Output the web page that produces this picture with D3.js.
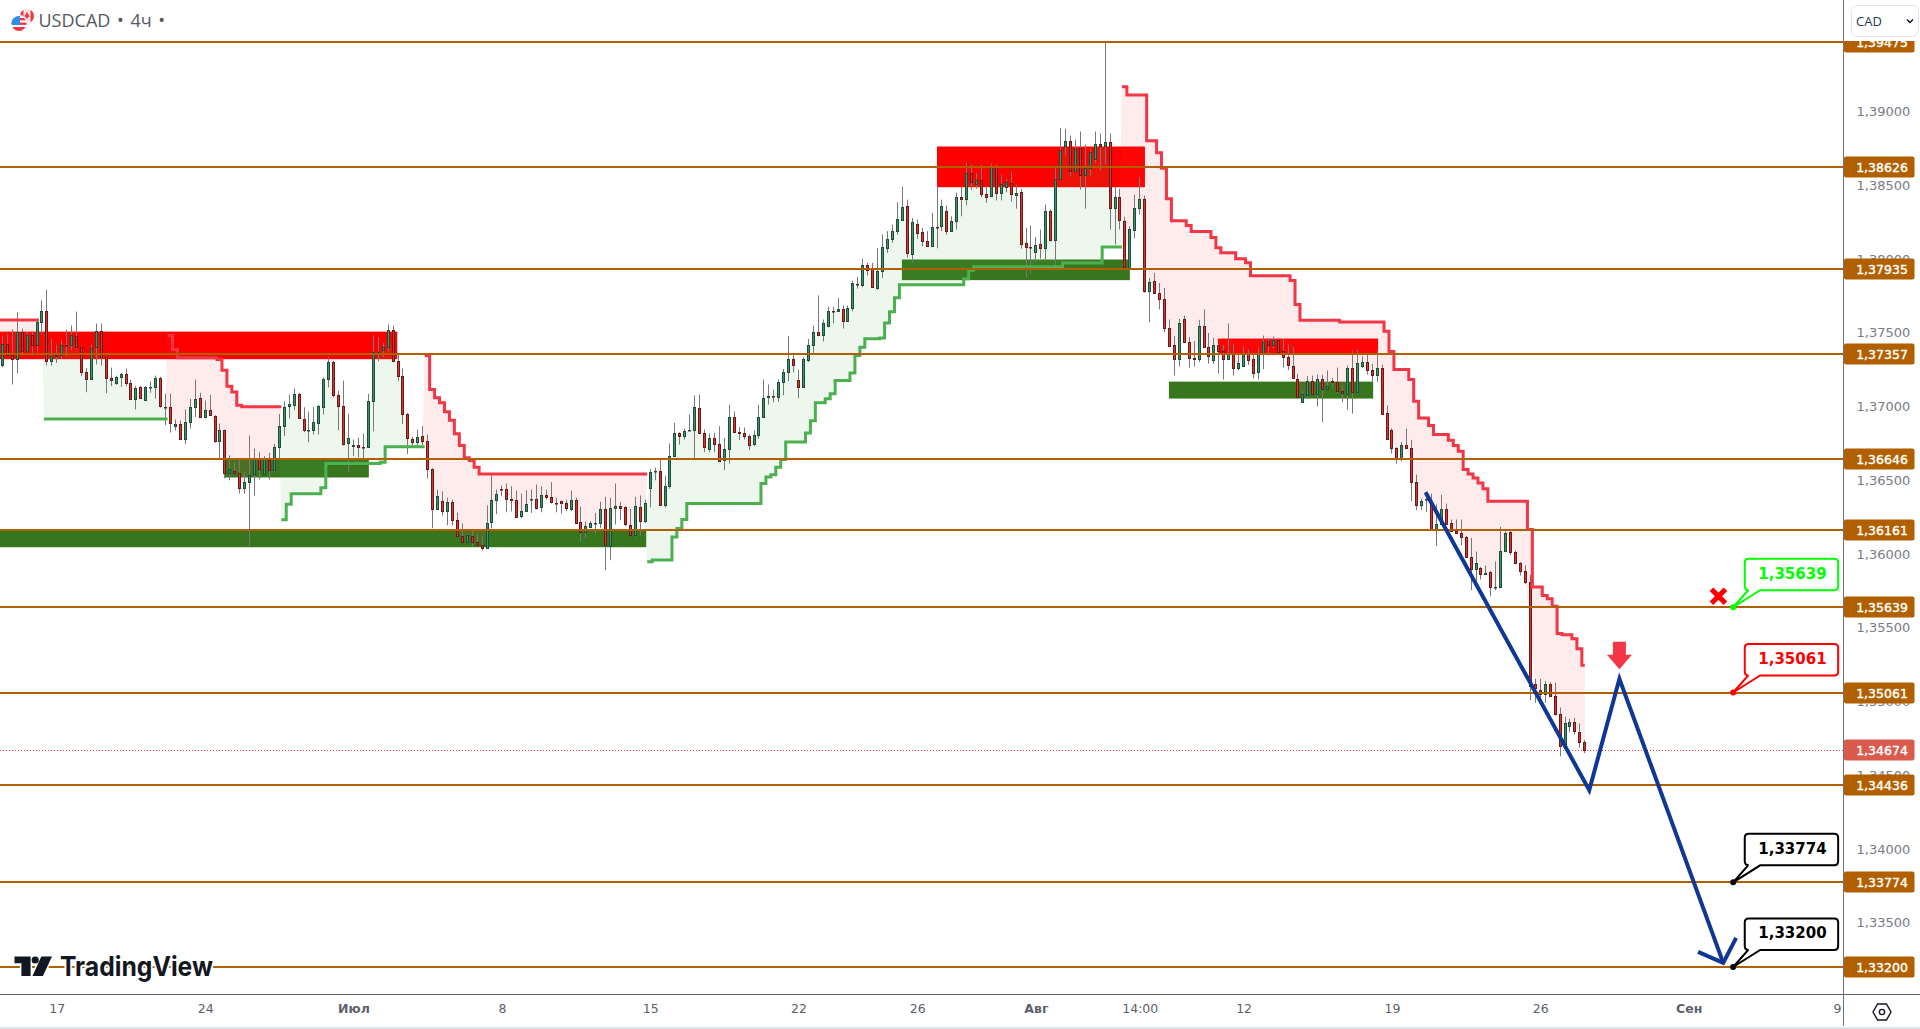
<!DOCTYPE html>
<html>
<head>
<meta charset="utf-8">
<title>USDCAD 4h</title>
<script src="https://cdnjs.cloudflare.com/ajax/libs/d3/7.8.5/d3.min.js"></script>
<style>
    html, body { margin: 0; padding: 0; background: #fff; overflow: hidden; }
    svg { display: block; }
</style>
</head>
<body>
<div id="chart"></div>
<script>
// Candles as [open, high, low, close]
const barsJune = [
    [1.37280,1.37477,1.37267,1.37425],[1.37425,1.37488,1.37346,1.37350],[1.37350,1.37522,1.37149,1.37325],[1.37325,1.37640,1.37224,1.37508],
    [1.37508,1.37529,1.37346,1.37382],[1.37382,1.37506,1.37375,1.37488],[1.37488,1.37506,1.37346,1.37420],[1.37420,1.37590,1.37375,1.37576],
    [1.37574,1.37719,1.37488,1.37649],[1.37649,1.37793,1.37278,1.37307],[1.37307,1.37459,1.37278,1.37343],[1.37341,1.37420,1.37296,1.37350],
    [1.37350,1.37454,1.37323,1.37418],[1.37418,1.37522,1.37341,1.37416],[1.37418,1.37549,1.37382,1.37486],[1.37479,1.37644,1.37386,1.37402],
    [1.37404,1.37409,1.37206,1.37233],[1.37235,1.37262,1.37097,1.37185],[1.37185,1.37420,1.37185,1.37398],[1.37404,1.37563,1.37285,1.37513],
    [1.37513,1.37563,1.37278,1.37334],[1.37337,1.37341,1.37090,1.37192],[1.37194,1.37264,1.37138,1.37178],[1.37158,1.37210,1.37147,1.37201],
    [1.37201,1.37228,1.37133,1.37221],[1.37221,1.37258,1.37138,1.37158],[1.37160,1.37183,1.37047,1.37050],[1.37050,1.37138,1.36980,1.37127],
    [1.37133,1.37138,1.37052,1.37056],[1.37045,1.37138,1.37043,1.37133],[1.37131,1.37172,1.37093,1.37133],[1.37133,1.37210,1.37054,1.37194],
    [1.37194,1.37201,1.36993,1.37002],[1.36998,1.37088,1.36873,1.36995],[1.36998,1.37088,1.36824,1.36887],[1.36867,1.36912,1.36837,1.36882],
    [1.36882,1.36905,1.36776,1.36778],[1.36778,1.36980,1.36745,1.36896],[1.36894,1.37052,1.36851,1.36998],[1.36998,1.37183,1.36930,1.37052],
    [1.37059,1.37093,1.36923,1.36928],[1.36928,1.37041,1.36919,1.36977],[1.36977,1.37079,1.36939,1.36943],[1.36937,1.36941,1.36754,1.36765],
    [1.36765,1.36885,1.36641,1.36842],[1.36842,1.36844,1.36514,1.36548],[1.36548,1.36668,1.36500,1.36577],[1.36564,1.36623,1.36541,1.36548],
    [1.36548,1.36641,1.36410,1.36446],[1.36446,1.36561,1.36410,1.36489],[1.36489,1.36803,1.36046,1.36539],[1.36541,1.36715,1.36397,1.36641],
    [1.36641,1.36690,1.36505,1.36575],[1.36541,1.36663,1.36537,1.36641],[1.36638,1.36686,1.36505,1.36568],[1.36568,1.36747,1.36555,1.36727],
    [1.36727,1.36950,1.36641,1.36869],[1.36867,1.37036,1.36799,1.36998],[1.37002,1.37081,1.36919,1.37018],[1.37009,1.37122,1.36975,1.37086],
    [1.37086,1.37093,1.36919,1.36921],[1.36916,1.36995,1.36826,1.36839],[1.36839,1.36966,1.36758,1.36842],[1.36839,1.37000,1.36810,1.36896],
    [1.36894,1.37011,1.36810,1.37007],[1.36998,1.37197,1.36946,1.37190],[1.37185,1.37337,1.37129,1.37303],[1.37303,1.37310,1.37063,1.37077],
    [1.37077,1.37106,1.36839,1.37002],[1.37004,1.37176,1.36736,1.36745],[1.36751,1.36952,1.36552,1.36788]
];
const barsJuly = [
    [1.36733,1.36776,1.36663,1.36742],[1.36740,1.36788,1.36656,1.36724],[1.36727,1.36817,1.36641,1.36724],[1.36727,1.37086,1.36722,1.37038],
    [1.37038,1.37488,1.36833,1.37368],[1.37368,1.37472,1.37307,1.37371],[1.37382,1.37432,1.37334,1.37404],[1.37402,1.37556,1.37373,1.37520],
    [1.37520,1.37549,1.37301,1.37307],[1.37310,1.37352,1.37172,1.37206],[1.37208,1.37258,1.36880,1.36948],[1.36950,1.36957,1.36677,1.36785],
    [1.36781,1.36794,1.36720,1.36758],[1.36758,1.36844,1.36720,1.36794],[1.36801,1.36867,1.36740,1.36765],[1.36767,1.36810,1.36512,1.36575],
    [1.36577,1.36582,1.36175,1.36304],[1.36304,1.36437,1.36302,1.36394],[1.36360,1.36424,1.36261,1.36290],[1.36290,1.36381,1.36195,1.36354],
    [1.36354,1.36369,1.36195,1.36229],[1.36232,1.36281,1.36119,1.36121],[1.36123,1.36207,1.36076,1.36080],[1.36080,1.36139,1.36076,1.36128],
    [1.36123,1.36155,1.36053,1.36080],[1.36082,1.36139,1.36057,1.36060],[1.36062,1.36121,1.36026,1.36042],[1.36042,1.36329,1.36039,1.36211],
    [1.36216,1.36534,1.36175,1.36367],[1.36367,1.36437,1.36270,1.36408],[1.36442,1.36464,1.36392,1.36439],[1.36442,1.36478,1.36283,1.36372],
    [1.36374,1.36460,1.36290,1.36365],[1.36367,1.36430,1.36245,1.36250],[1.36256,1.36410,1.36243,1.36293],[1.36290,1.36433,1.36288,1.36340],
    [1.36372,1.36437,1.36279,1.36374],[1.36374,1.36471,1.36302,1.36315],[1.36317,1.36460,1.36283,1.36401],[1.36401,1.36437,1.36369,1.36385],
    [1.36387,1.36487,1.36342,1.36351],[1.36347,1.36381,1.36283,1.36345],[1.36360,1.36363,1.36274,1.36345],[1.36347,1.36369,1.36290,1.36311],
    [1.36311,1.36430,1.36290,1.36369],[1.36369,1.36381,1.36207,1.36216],[1.36218,1.36322,1.36085,1.36150],[1.36150,1.36220,1.36109,1.36189],
    [1.36182,1.36223,1.36177,1.36211],[1.36209,1.36279,1.36139,1.36211],[1.36209,1.36354,1.36177,1.36306],[1.36306,1.36388,1.35890,1.36060],
    [1.36053,1.36381,1.35958,1.36313],[1.36311,1.36478,1.36200,1.36326],[1.36326,1.36354,1.36229,1.36311],[1.36320,1.36324,1.36189,1.36202],
    [1.36198,1.36306,1.36125,1.36128],[1.36128,1.36388,1.36116,1.36326],[1.36320,1.36397,1.36125,1.36222],[1.36222,1.36369,1.36211,1.36347],
    [1.36446,1.36577,1.36317,1.36557],[1.36561,1.36586,1.36500,1.36564],[1.36564,1.36641,1.36329,1.36331],[1.36331,1.36532,1.36317,1.36462],
    [1.36460,1.36749,1.36442,1.36663],[1.36663,1.36889,1.36661,1.36821],[1.36821,1.36826,1.36742,1.36799],[1.36799,1.36851,1.36776,1.36835],
    [1.36839,1.36946,1.36839,1.36842],[1.36839,1.37075,1.36652,1.36998],[1.36991,1.37081,1.36817,1.36819],[1.36821,1.36844,1.36690,1.36724],
    [1.36711,1.36817,1.36690,1.36788],[1.36788,1.36821,1.36690,1.36745],[1.36747,1.36867,1.36629,1.36634],[1.36638,1.36788,1.36568,1.36713],
    [1.36711,1.37011,1.36613,1.36930],[1.36930,1.36966,1.36821,1.36826],[1.36828,1.36860,1.36772,1.36819],[1.36821,1.36858,1.36776,1.36799],
    [1.36803,1.36810,1.36704,1.36745],[1.36745,1.36839,1.36731,1.36808],[1.36806,1.37011,1.36781,1.36930],[1.36932,1.37183,1.36930,1.37059],
    [1.37063,1.37149,1.37013,1.37070],[1.37072,1.37115,1.37029,1.37070],[1.37063,1.37183,1.37032,1.37167],[1.37165,1.37255,1.37077,1.37235],
    [1.37233,1.37477,1.37172,1.37319],[1.37319,1.37352,1.37233,1.37280],[1.37181,1.37251,1.37056,1.37131],[1.37131,1.37332,1.37129,1.37319],
    [1.37319,1.37459,1.37301,1.37418],[1.37416,1.37549,1.37364,1.37506],[1.37506,1.37753,1.37477,1.37484],[1.37484,1.37590,1.37441,1.37567],
    [1.37545,1.37676,1.37538,1.37649],[1.37651,1.37676,1.37563,1.37649],[1.37646,1.37737,1.37644,1.37662],[1.37662,1.37685,1.37529,1.37578],
    [1.37578,1.37685,1.37576,1.37669],[1.37667,1.37854,1.37646,1.37838],[1.37832,1.37879,1.37800,1.37829],[1.37823,1.38003,1.37809,1.37960],
    [1.37960,1.37974,1.37888,1.37929],[1.37933,1.37974,1.37807,1.37809],[1.37809,1.38076,1.37793,1.37922],[1.37918,1.38166,1.37872,1.38083],
    [1.38073,1.38189,1.38042,1.38137],[1.38134,1.38234,1.38110,1.38191],[1.38189,1.38385,1.38166,1.38272],[1.38268,1.38492,1.38263,1.38354],
    [1.38360,1.38403,1.38010,1.38040],[1.38033,1.38279,1.37974,1.38252],[1.38238,1.38268,1.38137,1.38175],[1.38184,1.38211,1.38087,1.38121],
    [1.38123,1.38189,1.38083,1.38087],[1.38087,1.38313,1.38083,1.38218],[1.38218,1.38494,1.38073,1.38216],[1.38223,1.38403,1.38189,1.38360],
    [1.38327,1.38363,1.38166,1.38189],[1.38189,1.38290,1.38186,1.38259],[1.38256,1.38449,1.38200,1.38421],[1.38421,1.38489,1.38290,1.38406],
    [1.38406,1.38652,1.38363,1.38584],[1.38584,1.38641,1.38471,1.38521],[1.38514,1.38584,1.38478,1.38539],[1.38537,1.38641,1.38419,1.38440],
    [1.38444,1.38494,1.38381,1.38426],[1.38426,1.38648,1.38419,1.38623],[1.38623,1.38641,1.38397,1.38446],[1.38446,1.38573,1.38397,1.38510],
    [1.38491,1.38546,1.38453,1.38523],[1.38516,1.38593,1.38390,1.38440],[1.38440,1.38505,1.38342,1.38451],[1.38455,1.38476,1.38071,1.38101],
    [1.38110,1.38211,1.37875,1.38080],[1.38083,1.38227,1.37902,1.38080]
];
const barsAugust = [
    [1.38046,1.38150,1.37981,1.38096],[1.38103,1.38200,1.38003,1.38073],[1.38073,1.38370,1.37981,1.38327],[1.38327,1.38336,1.38119,1.38132],
    [1.38132,1.38625,1.37940,1.38544],[1.38544,1.38889,1.38539,1.38740],[1.38765,1.38883,1.38702,1.38801],[1.38801,1.38837,1.38559,1.38596],
    [1.38596,1.38810,1.38591,1.38747],[1.38754,1.38864,1.38471,1.38568],[1.38568,1.38776,1.38342,1.38618],[1.38616,1.38749,1.38566,1.38727],
    [1.38679,1.38864,1.38652,1.38781],[1.38781,1.38851,1.38600,1.38765],[1.38765,1.39470,1.38641,1.38794],[1.38794,1.38851,1.38200,1.38345],
    [1.38345,1.38489,1.38098,1.38421],[1.38421,1.38476,1.38200,1.38263],[1.38259,1.38286,1.37940,1.37945],[1.37940,1.38223,1.37936,1.38204],
    [1.38200,1.38437,1.38139,1.38347],[1.38347,1.38557,1.38302,1.38408],[1.38408,1.38431,1.37771,1.37782],[1.37782,1.37872,1.37572,1.37845],
    [1.37852,1.37906,1.37766,1.37768],[1.37771,1.37838,1.37658,1.37728],[1.37730,1.37804,1.37504,1.37531],[1.37533,1.37590,1.37404,1.37409],
    [1.37414,1.37477,1.37212,1.37321],[1.37321,1.37594,1.37271,1.37567],[1.37594,1.37617,1.37432,1.37436],[1.37438,1.37472,1.37264,1.37328],
    [1.37330,1.37445,1.37271,1.37321],[1.37321,1.37588,1.37301,1.37547],[1.37547,1.37658,1.37400,1.37402],[1.37404,1.37499,1.37291,1.37341],
    [1.37314,1.37465,1.37291,1.37418],[1.37418,1.37425,1.37224,1.37375],[1.37377,1.37414,1.37183,1.37321],[1.37319,1.37563,1.37314,1.37355],
    [1.37359,1.37425,1.37210,1.37262],[1.37260,1.37352,1.37246,1.37296],[1.37273,1.37407,1.37269,1.37357],[1.37357,1.37386,1.37282,1.37314],
    [1.37319,1.37352,1.37190,1.37226],[1.37233,1.37398,1.37183,1.37357],[1.37359,1.37481,1.37253,1.37438],[1.37441,1.37466,1.37346,1.37416],
    [1.37420,1.37475,1.37393,1.37454],[1.37454,1.37466,1.37371,1.37375],[1.37377,1.37461,1.37264,1.37334],[1.37337,1.37420,1.37246,1.37280],
    [1.37276,1.37404,1.37190,1.37192],[1.37188,1.37221,1.37061,1.37063],[1.37029,1.37106,1.37027,1.37086],[1.37081,1.37206,1.37052,1.37174],
    [1.37174,1.37210,1.37081,1.37084],[1.37084,1.37217,1.37000,1.37188],[1.37188,1.37217,1.36894,1.37117],[1.37117,1.37244,1.37115,1.37138],
    [1.37174,1.37194,1.37129,1.37170],[1.37167,1.37264,1.37090,1.37104],[1.37106,1.37138,1.37029,1.37090],[1.37090,1.37278,1.36980,1.37264],
    [1.37262,1.37380,1.36952,1.37097],[1.37104,1.37386,1.37088,1.37298],[1.37278,1.37341,1.37262,1.37303],[1.37303,1.37352,1.37217,1.37246],
    [1.37249,1.37291,1.37167,1.37217],[1.37219,1.37375,1.37165,1.37264],[1.37262,1.37285,1.36948,1.36952],[1.36957,1.37007,1.36774,1.36778],
    [1.36842,1.36851,1.36681,1.36717],[1.36720,1.36724,1.36613,1.36652],[1.36652,1.36760,1.36627,1.36740],[1.36740,1.36851,1.36715,1.36717],
    [1.36720,1.36774,1.36358,1.36487],[1.36489,1.36539,1.36297,1.36331],[1.36331,1.36376,1.36297,1.36361],[1.36367,1.36415,1.36284,1.36370],
    [1.36352,1.36410,1.36164,1.36166],[1.36166,1.36336,1.36053,1.36205],[1.36205,1.36403,1.36200,1.36306],[1.36306,1.36342,1.36200,1.36205],
    [1.36211,1.36234,1.36155,1.36159],[1.36159,1.36234,1.36139,1.36144],[1.36144,1.36234,1.36058,1.36117],[1.36117,1.36121,1.35974,1.35981],
    [1.35981,1.36110,1.35755,1.35897],[1.35897,1.36017,1.35816,1.35936],[1.35906,1.35913,1.35827,1.35863],[1.35863,1.35922,1.35857,1.35872],
    [1.35879,1.35884,1.35714,1.35778],[1.35775,1.35949,1.35755,1.35778],[1.35778,1.36184,1.35773,1.36022],[1.36019,1.36155,1.36017,1.36144],
    [1.36150,1.36166,1.35992,1.36013],[1.36015,1.36022,1.35931,1.35938],[1.35940,1.35947,1.35854,1.35884],[1.35886,1.35924,1.35796,1.35809],
    [1.35811,1.35859,1.35009,1.35109],[1.35120,1.35154,1.34991,1.35090],[1.35079,1.35154,1.35014,1.35052],[1.35052,1.35138,1.34991,1.35120],
    [1.35120,1.35131,1.35032,1.35036],[1.35038,1.35127,1.34905,1.34914],[1.34916,1.34959,1.34629,1.34699],[1.34702,1.34896,1.34697,1.34855],
    [1.34833,1.34883,1.34792,1.34862],[1.34862,1.34889,1.34776,1.34801],[1.34794,1.34851,1.34686,1.34724],[1.34727,1.34738,1.34650,1.34674]
];

// Supertrend runs as [bar, price] breakpoints, the last row only marks where the run stops
const downTrend1 = [[-1,1.37587],[7,1.37587]];
const upTrend1 = [[8,1.36916],[33,1.36916]];
const downTrend2 = [[33,1.37481],[34,1.37386],[35,1.37330],[43,1.37319],[44,1.37246],[45,1.37138],[46,1.37099],[47,1.37009],[48,1.36998],[56,1.36998]];
const upTrend2 = [[56,1.36232],[57,1.36338],[58,1.36408],[64,1.36449],[65,1.36613],[76,1.36622],[77,1.36727],[85,1.36727]];
const downTrend3 = [[85,1.37346],[86,1.37115],[87,1.37059],[88,1.37025],[89,1.36964],[90,1.36907],[91,1.36815],[92,1.36736],[93,1.36652],[94,1.36634],[95,1.36589],[96,1.36543],[130,1.36543]];
const upTrend3 = [[130,1.35947],[131,1.35960],[135,1.36116],[136,1.36173],[137,1.36234],[138,1.36342],[153,1.36478],[154,1.36523],[155,1.36537],[156,1.36589],[157,1.36641],[158,1.36760],[162,1.36821],[163,1.36903],[164,1.37025],[166,1.37052],[167,1.37086],[168,1.37176],[171,1.37228],[172,1.37346],[173,1.37402],[174,1.37459],[177,1.37465],[178,1.37567],[179,1.37642],[180,1.37737],[181,1.37825],[194,1.37866],[195,1.37924],[196,1.37947],[214,1.37974],[222,1.38082],[226,1.38082]];
const downTrend4 = [[226,1.39168],[227,1.39113],[231,1.38802],[233,1.38720],[234,1.38616],[235,1.38408],[236,1.38259],[239,1.38228],[240,1.38187],[244,1.38146],[245,1.38076],[246,1.38042],[249,1.38002],[251,1.37975],[252,1.37886],[260,1.37854],[261,1.37691],[262,1.37585],[270,1.37574],[279,1.37511],[280,1.37373],[281,1.37251],[284,1.37183],[285,1.37036],[286,1.36923],[288,1.36871],[289,1.36810],[292,1.36772],[293,1.36736],[294,1.36697],[295,1.36573],[296,1.36543],[297,1.36516],[298,1.36482],[299,1.36442],[300,1.36358],[308,1.36166],[309,1.35777],[311,1.35719],[312,1.35696],[313,1.35646],[314,1.35461],[315,1.35452],[317,1.35425],[318,1.35357],[319,1.35246],[319.6,1.35246]];

// Zones as [first bar, last bar, top price, bottom price]
const supplyZones = [[-1,79.85,1.37508,1.37321],[189,231.05,1.38763,1.38487],[245.8,278.2,1.37461,1.37362]];
const demandZones = [[44.8,74.1,1.36641,1.36519],[-1,130.2,1.36161,1.36046],[181.9,228,1.37997,1.37857],[235.9,277.2,1.37169,1.37054]];

const levelPrices = [1.39475,1.38626,1.37935,1.37357,1.36646,1.36161,1.35639,1.35061,1.34436,1.33774,1.33200];
const priceTicks = [1.39,1.385,1.38,1.375,1.37,1.365,1.36,1.355,1.35,1.345,1.34,1.335];
const lastPrice = 1.34674;

const timeTickBars = [11,41,71,101,131,161,185,209,230,251,281,311,341,371];
const timeTickLabels = ["17","24","Июл","8","15","22","26","Авг","14:00","12","19","26","Сен","9"];
const boldTimeLabels = ["Июл","Авг","Сен"];

// Forecast drawing as [bar, price]
const forecastPath = [[287.8,1.36419],[320.9,1.34399],[327,1.35154],[348,1.33228]];
const forecastHead = [[342.9,1.33303],[348,1.33228],[350.6,1.33398]];

const calloutBar = 350;
const calloutPrices = [1.35639,1.35061,1.33774,1.33200];
const calloutColors = ["#00ff00","#ff0000","#000000","#000000"];

// Layout
const width = 1920;
const height = 1029;
const axisX = 1843.5;
const timeAxisY = 994.5;
const bandColor = "#b25f00";
const font = "'DejaVu Sans', sans-serif";

const candles = [...barsJune, ...barsJuly, ...barsAugust];

const xScale = d3.scaleLinear().domain([0, 320]).range([2.4, 1584.8]);
const yScale = d3.scaleLinear().domain([1.39475, 1.332]).range([41.5, 967]);
const formatPrice = d => d.toFixed(5).replace(".", ",");

const svg = d3.select("#chart")
    .append("svg")
    .attr("width", width)
    .attr("height", height)
    .attr("viewBox", `0 0 ${width} ${height}`)
    .style("background", "#fff");

const plot = svg.append("g");

plot.append("clipPath").attr("id", "plotClip")
    .append("rect")
    .attr("width", axisX)
    .attr("height", timeAxisY);

const marks = plot.append("g").attr("clip-path", "url(#plotClip)");

// Zones sit under everything else
const drawZones = (zones, color) => {
    marks.append("g")
        .selectAll("rect")
        .data(zones)
        .join("rect")
        .attr("x", d => xScale(d[0]))
        .attr("width", d => xScale(d[1]) - xScale(d[0]))
        .attr("y", d => yScale(d[2]))
        .attr("height", d => yScale(d[3]) - yScale(d[2]))
        .attr("fill", color);
};
drawZones(supplyZones, "#ff0000");
drawZones(demandZones, "#38761d");

// Supertrend fills: from the step line to the middle of the candle bodies
const lineShift = 0.4;
const bodyMiddle = i => {
    const c = candles[Math.max(0, Math.round(i))];
    return (c[0] + c[3]) / 2;
};

const drawTrend = (steps, lineColor, fillColor) => {
    const first = steps[0][0];
    const last = steps[steps.length - 1][0];

    const top = [];
    steps.forEach((s, k) => {
        if (k > 0) top.push([xScale(s[0] + lineShift), yScale(steps[k - 1][1])]);
        top.push([xScale(s[0] + lineShift), yScale(s[1])]);
    });
    const bottom = [];
    for (let i = Math.ceil(last); i >= Math.max(0, Math.ceil(first)); i--) {
        bottom.push([xScale(i), yScale(bodyMiddle(i))]);
    }

    marks.append("path")
        .attr("d", d3.line()([...top, ...bottom]) + "Z")
        .attr("fill", fillColor);

    return () => {
        marks.append("path")
            .attr("d", d3.line().curve(d3.curveStepAfter)
                .x(d => xScale(d[0] + lineShift))
                .y(d => yScale(d[1]))(steps))
            .attr("fill", "none")
            .attr("stroke", lineColor)
            .attr("stroke-width", 3);
    };
};

const pink = "rgba(242,54,69,0.1)";
const mint = "rgba(76,175,80,0.1)";
const trendLines = [
    drawTrend(downTrend1, "#f23645", pink),
    drawTrend(upTrend1, "#4caf50", mint),
    drawTrend(downTrend2, "#f23645", pink),
    drawTrend(upTrend2, "#4caf50", mint),
    drawTrend(downTrend3, "#f23645", pink),
    drawTrend(upTrend3, "#4caf50", mint),
    drawTrend(downTrend4, "#f23645", pink)
];

// Last price line
marks.append("line")
    .attr("x1", 0)
    .attr("x2", axisX)
    .attr("y1", Math.round(yScale(lastPrice)) + 0.5)
    .attr("y2", Math.round(yScale(lastPrice)) + 0.5)
    .attr("stroke", "#f23645")
    .attr("stroke-width", 1)
    .attr("stroke-dasharray", "1 2");

// Candles
const candleX = i => Math.floor(xScale(i));
const candleGroup = marks.append("g");

candleGroup.selectAll("line")
    .data(candles)
    .join("line")
    .attr("x1", (d, i) => candleX(i) + 0.5)
    .attr("x2", (d, i) => candleX(i) + 0.5)
    .attr("y1", d => yScale(d[1]))
    .attr("y2", d => yScale(d[2]))
    .attr("stroke", "#787878")
    .attr("stroke-width", 1);

candleGroup.selectAll("rect")
    .data(candles)
    .join("rect")
    .attr("x", (d, i) => candleX(i) - 0.5)
    .attr("width", 2)
    .attr("y", d => Math.round(yScale(Math.max(d[0], d[3]))) + 0.5)
    .attr("height", d => Math.max(0.5, Math.round(Math.abs(yScale(d[0]) - yScale(d[3])))))
    .attr("fill", d => d[3] >= d[0] ? "#3d9468" : "#d8352f")
    .attr("stroke", d => d[3] >= d[0] ? "#1d4d39" : "#671a17")
    .attr("stroke-width", 1);

trendLines.forEach(draw => draw());

// Horizontal levels
marks.append("g")
    .selectAll("line")
    .data(levelPrices)
    .join("line")
    .attr("x1", 0)
    .attr("x2", axisX)
    .attr("y1", d => Math.round(yScale(d)))
    .attr("y2", d => Math.round(yScale(d)))
    .attr("stroke", bandColor)
    .attr("stroke-width", 2);

// Forecast line with its arrow head
const forecastLine = d3.line().x(d => xScale(d[0])).y(d => yScale(d[1]));
[forecastPath, forecastHead].forEach(points => {
    marks.append("path")
        .attr("d", forecastLine(points))
        .attr("fill", "none")
        .attr("stroke", "#0f3796")
        .attr("stroke-width", 4)
        .attr("stroke-linejoin", "miter");
});

// Red sell arrow above the forecast peak
const arrowX = xScale(forecastPath[2][0]);
const arrowY = yScale(forecastPath[2][1]);
marks.append("path")
    .attr("d", `M${arrowX - 6.5},${arrowY - 37} h13 v13 h6 l-12.5,14.5 l-12.5,-14.5 h6 Z`)
    .attr("fill", "#f23645");

// Red cross on the invalidation level
const crossX = xScale(calloutBar) - 14.7;
const crossY = yScale(calloutPrices[0]) - 11;
marks.append("path")
    .attr("d", `M${crossX - 7},${crossY - 7} L${crossX + 7},${crossY + 7} M${crossX + 7},${crossY - 7} L${crossX - 7},${crossY + 7}`)
    .attr("stroke", "#ff0000")
    .attr("stroke-width", 5.2)
    .attr("fill", "none");

// Callouts
const callouts = svg.append("g")
    .selectAll("g")
    .data(calloutPrices)
    .join("g")
    .attr("transform", d => `translate(${xScale(calloutBar)},${yScale(d)})`);

const bubble = { x0: 11.6, x1: 105, y0: -48.5, y1: -17, r: 4, tailL: 15, tailR: 27 };

callouts.append("path")
    .attr("d", `M${bubble.x0 + bubble.r},${bubble.y0}
        H${bubble.x1 - bubble.r} Q${bubble.x1},${bubble.y0} ${bubble.x1},${bubble.y0 + bubble.r}
        V${bubble.y1 - bubble.r} Q${bubble.x1},${bubble.y1} ${bubble.x1 - bubble.r},${bubble.y1}
        H${bubble.tailR} L0,0 L${bubble.tailL},${bubble.y1}
        H${bubble.x0 + bubble.r} Q${bubble.x0},${bubble.y1} ${bubble.x0},${bubble.y1 - bubble.r}
        V${bubble.y0 + bubble.r} Q${bubble.x0},${bubble.y0} ${bubble.x0 + bubble.r},${bubble.y0} Z`)
    .attr("fill", "#fff")
    .attr("stroke", (d, i) => calloutColors[i])
    .attr("stroke-width", 2);

callouts.append("circle")
    .attr("r", 3)
    .attr("fill", (d, i) => calloutColors[i]);

callouts.append("text")
    .attr("x", (bubble.x0 + bubble.x1) / 2 + 1)
    .attr("y", (bubble.y0 + bubble.y1) / 2 + 4)
    .attr("text-anchor", "middle")
    .style("font-family", font)
    .style("font-size", "15px")
    .style("font-weight", "bold")
    .style("fill", (d, i) => calloutColors[i])
    .text(d => formatPrice(d));

// TradingView logo
const logo = svg.append("g");
logo.append("path")
    .attr("d", "M14.5,956.5 H30.6 V976 H21.4 V963.3 H14.5 Z M41.3,956.5 H52 L42.9,976 H32.5 Z")
    .attr("fill", "#131722")
    .attr("stroke", "#fff")
    .attr("stroke-width", 3)
    .attr("paint-order", "stroke");
logo.append("circle")
    .attr("cx", 35.2)
    .attr("cy", 960)
    .attr("r", 3.6)
    .attr("fill", "#131722");
logo.append("text")
    .attr("x", 60)
    .attr("y", 976)
    .attr("textLength", 153)
    .attr("lengthAdjust", "spacingAndGlyphs")
    .style("font-family", "Inter, Roboto, sans-serif")
    .style("font-size", "27px")
    .style("font-weight", 700)
    .style("fill", "#131722")
    .style("stroke", "#fff")
    .style("stroke-width", "4px")
    .style("paint-order", "stroke")
    .text("TradingView");

// Time axis
const timeAxis = svg.append("g")
    .attr("transform", `translate(0,${timeAxisY})`)
    .call(d3.axisBottom(xScale)
        .tickValues(timeTickBars)
        .tickFormat((d, i) => timeTickLabels[i])
        .tickSize(0)
        .tickPadding(10));
timeAxis.select(".domain").remove();
timeAxis.selectAll("text")
    .style("font-family", font)
    .style("font-size", "12.5px")
    .style("font-weight", (d, i) => boldTimeLabels.includes(timeTickLabels[i]) ? "bold" : "normal")
    .style("fill", "#5d606b");

svg.append("line")
    .attr("x1", 0).attr("x2", width)
    .attr("y1", timeAxisY).attr("y2", timeAxisY)
    .attr("stroke", "#5d606b");
svg.append("line")
    .attr("x1", axisX).attr("x2", axisX)
    .attr("y1", 0).attr("y2", height - 3)
    .attr("stroke", "#6f727c");
svg.append("rect")
    .attr("x", 0).attr("y", height - 2)
    .attr("width", width).attr("height", 2)
    .attr("fill", "#e0e3eb");

// Price axis
const priceAxis = svg.append("g")
    .attr("transform", `translate(${axisX},0)`)
    .call(d3.axisRight(yScale)
        .tickValues(priceTicks)
        .tickFormat(formatPrice)
        .tickSize(0)
        .tickPadding(13));
priceAxis.select(".domain").remove();
priceAxis.selectAll("text")
    .style("font-family", font)
    .style("font-size", "13px")
    .style("fill", "#787b86");

// Price badges on the axis
const drawBadges = (prices, color) => {
    const badge = svg.append("g")
        .selectAll("g")
        .data(prices)
        .join("g")
        .attr("transform", d => `translate(${axisX + 0.5},${Math.round(yScale(d))})`);
    badge.append("rect")
        .attr("y", -10.5)
        .attr("width", 70.5)
        .attr("height", 21)
        .attr("rx", 2)
        .attr("fill", color);
    badge.append("text")
        .attr("x", 38)
        .attr("y", 4.5)
        .attr("text-anchor", "middle")
        .style("font-family", font)
        .style("font-size", "12.5px")
        .style("fill", "#fff")
        .style("stroke", "#fff")
        .style("stroke-width", "0.4px")
        .text(d => formatPrice(d));
};
drawBadges(levelPrices, bandColor);
drawBadges([lastPrice], "#da5a4c");

// Currency box clips the top badge
svg.append("rect")
    .attr("x", axisX + 0.5).attr("y", 0)
    .attr("width", width - axisX).attr("height", 41)
    .attr("fill", "#fff");
svg.append("rect")
    .attr("x", 1851.5).attr("y", 5.5)
    .attr("width", 67).attr("height", 31)
    .attr("rx", 6)
    .attr("fill", "#fff")
    .attr("stroke", "#e0e3eb");
svg.append("text")
    .attr("x", 1856)
    .attr("y", 26)
    .style("font-family", "'Open Sans', sans-serif")
    .style("font-size", "13px")
    .style("fill", "#1e3a56")
    .text("CAD");
svg.append("path")
    .attr("d", "M1907,19.5 L1910,22.5 L1913,19.5")
    .attr("fill", "none")
    .attr("stroke", "#131722")
    .attr("stroke-width", 1.5);

// Settings hexagon
svg.append("path")
    .attr("d", "M1873,1012 L1877.5,1004 H1886.5 L1891,1012 L1886.5,1020 H1877.5 Z")
    .attr("fill", "none")
    .attr("stroke", "#131722")
    .attr("stroke-width", 1.4);
svg.append("circle")
    .attr("cx", 1882).attr("cy", 1012).attr("r", 2.6)
    .attr("fill", "none")
    .attr("stroke", "#131722")
    .attr("stroke-width", 1.4);

// Title with the pair flags
const defs = svg.append("defs");
defs.append("clipPath").attr("id", "flagCa")
    .append("circle").attr("cx", 27).attr("cy", 16).attr("r", 7);
defs.append("clipPath").attr("id", "flagUs")
    .append("circle").attr("cx", 19).attr("cy", 23.5).attr("r", 7.5);

const flagCa = svg.append("g").attr("clip-path", "url(#flagCa)");
flagCa.append("rect").attr("x", 20).attr("y", 9).attr("width", 14).attr("height", 14).attr("fill", "#fbe3e5");
flagCa.append("rect").attr("x", 30.5).attr("y", 9).attr("width", 4).attr("height", 14).attr("fill", "#f23645");
flagCa.append("rect").attr("x", 20).attr("y", 9).attr("width", 3.5).attr("height", 14).attr("fill", "#f23645");
flagCa.append("path").attr("d", "M27,12 L29.5,16 L27,19 L24.5,16 Z").attr("fill", "#f23645");

svg.append("circle").attr("cx", 19).attr("cy", 23.5).attr("r", 8.5).attr("fill", "#fff");
const flagUs = svg.append("g").attr("clip-path", "url(#flagUs)");
flagUs.append("rect").attr("x", 11).attr("y", 16).attr("width", 16).attr("height", 16).attr("fill", "#fff");
flagUs.append("rect").attr("x", 11).attr("y", 18).attr("width", 16).attr("height", 2.4).attr("fill", "#f23645");
flagUs.append("rect").attr("x", 11).attr("y", 22.5).attr("width", 16).attr("height", 2.4).attr("fill", "#f23645");
flagUs.append("rect").attr("x", 11).attr("y", 27).attr("width", 16).attr("height", 5).attr("fill", "#f23645");
flagUs.append("rect").attr("x", 11).attr("y", 16).attr("width", 9).attr("height", 9).attr("fill", "#2f8fe8");

svg.append("text")
    .attr("x", 38.5)
    .attr("y", 27)
    .style("font-family", "'Open Sans', sans-serif")
    .style("font-size", "18px")
    .style("word-spacing", "2px")
    .style("fill", "#555860")
    .text("USDCAD • 4ч •");
</script>
</body>
</html>
